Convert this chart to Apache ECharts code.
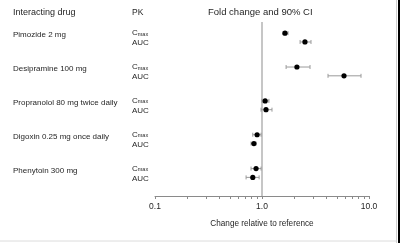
<!DOCTYPE html>
<html><head><meta charset="utf-8">
<script src="https://cdn.jsdelivr.net/npm/echarts@6/dist/echarts.min.js"></script>
<style>html,body{margin:0;padding:0;background:#fff}#c{width:400px;height:243px}</style>
</head><body><div id="c"></div>
<script>
var drugs = ['Pimozide 2 mg','Desipramine 100 mg','Propranolol 80 mg twice daily','Digoxin 0.25 mg once daily','Phenytoin 300 mg'];
var pkParams = ['Cmax','AUC'];
var cmaxEst = [1.64, 2.12, 1.07, 0.90, 0.88];
var cmaxLow = [1.57, 1.68, 1.00, 0.82, 0.79];
var cmaxHigh = [1.75, 2.81, 1.16, 0.98, 0.98];
var aucEst = [2.52, 5.84, 1.09, 0.84, 0.82];
var aucLow = [2.27, 4.14, 0.98, 0.79, 0.71];
var aucHigh = [2.87, 8.42, 1.24, 0.88, 0.94];
var referenceValue = 1;
var majorTicks = [0.1, 1, 10];
var majorLabels = ['0.1','1.0','10.0'];
var minorTicks = [0.2,0.3,0.4,0.5,0.6,0.7,0.8,0.9,2,3,4,5,6,7,8,9];

var rows = [];
drugs.forEach(function(d, i){
  rows.push([cmaxEst[i], i - 0.13, cmaxLow[i], cmaxHigh[i], i, 0]);
  rows.push([aucEst[i], i + 0.13, aucLow[i], aucHigh[i], i, 1]);
});

var FONT = 'Liberation Sans, Arial, sans-serif';
var TXT = '#262626';
var YMIN = -0.46, YMAX = 4.68;

var chart = echarts.init(document.getElementById('c'), null, {renderer:'canvas'});
chart.setOption({
  animation:false,
  backgroundColor:'#fff',
  grid:{left:155, right:31, top:22, bottom:47, containLabel:false},
  xAxis:{
    type:'log', logBase:10, min:0.1, max:10, position:'bottom',
    axisLine:{show:true, onZero:false, lineStyle:{color:'#8a8a8a', width:1}},
    axisTick:{show:true, length:3, customValues:majorTicks.concat(minorTicks), lineStyle:{color:'#8a8a8a'}},
    minorTick:{show:false},
    splitLine:{show:false},
    axisLabel:{customValues:majorTicks, formatter:function(v){var k=majorTicks.indexOf(v);return k>=0?majorLabels[k]:(v>=1?v.toFixed(1):String(v));}, color:TXT, fontSize:8.5, fontFamily:FONT, margin:6},
    name:'Change relative to reference', nameLocation:'middle', nameGap:24,
    nameTextStyle:{color:TXT, fontSize:8.2, fontFamily:FONT}
  },
  yAxis:{type:'value', inverse:true, min:YMIN, max:YMAX, show:false},
  series:[{
    type:'custom',
    data:[[referenceValue]],
    renderItem:function(params, api){
      var a = api.coord([api.value(0), YMIN]);
      var b = api.coord([api.value(0), YMAX]);
      return {type:'line', shape:{x1:a[0], y1:a[1], x2:b[0], y2:b[1]}, style:{stroke:'#b8b8b8', lineWidth:1.6}};
    }
  },{
    type:'custom',
    data:rows,
    renderItem:function(params, api){
      var y = api.value(1);
      var c = api.coord([api.value(0), y]);
      var lo = api.coord([api.value(2), y]);
      var hi = api.coord([api.value(3), y]);
      var gs = {stroke:'#9a9a9a', lineWidth:1};
      return {type:'group', children:[
        {type:'line', shape:{x1:lo[0], y1:c[1], x2:hi[0], y2:c[1]}, style:gs},
        {type:'line', shape:{x1:lo[0], y1:c[1]-2, x2:lo[0], y2:c[1]+2}, style:gs},
        {type:'line', shape:{x1:hi[0], y1:c[1]-2, x2:hi[0], y2:c[1]+2}, style:gs},
        {type:'circle', shape:{cx:c[0], cy:c[1], r:2.6}, style:{fill:'#000'}}
      ]};
    }
  },{
    type:'custom',
    data:rows,
    renderItem:function(params, api){
      var y = api.value(1);
      var p = api.coord([1, y]);
      var i = api.value(4), k = api.value(5);
      var ch = [];
      if (k === 0) {
        ch.push({type:'text', x:13, y:p[1]+2, style:{text:drugs[i], fill:TXT, fontSize:8, fontFamily:FONT, textVerticalAlign:'middle'}});
        ch.push({type:'text', x:132, y:p[1], style:{text:'{c|C}{m|max}', rich:{c:{fontSize:8, fontFamily:FONT, fill:TXT}, m:{fontSize:5.5, fontFamily:FONT, fill:TXT, padding:[2,0,0,0]}}, textVerticalAlign:'middle'}});
      } else {
        ch.push({type:'text', x:132, y:p[1]+1, style:{text:'AUC', fill:TXT, fontSize:8, fontFamily:FONT, textVerticalAlign:'middle'}});
      }
      return {type:'group', children:ch};
    }
  }],
  graphic:[
    {type:'text', left:13, top:8, style:{text:'Interacting drug', fill:TXT, fontSize:9, fontFamily:FONT}},
    {type:'text', left:132, top:8, style:{text:'PK', fill:TXT, fontSize:8.5, fontFamily:FONT}},
    {type:'text', left:208, top:7, style:{text:'Fold change and 90% CI', fill:TXT, fontSize:9.5, fontFamily:FONT}},
    {type:'line', shape:{x1:0, y1:241, x2:397, y2:241}, style:{stroke:'#dcdcdc', lineWidth:1}},
    {type:'line', shape:{x1:396.5, y1:0, x2:396.5, y2:243}, style:{stroke:'#cfcfcf', lineWidth:1}},
    {type:'rect', shape:{x:398, y:0, width:2, height:243}, style:{fill:'#000'}}
  ]
});
</script></body></html>
